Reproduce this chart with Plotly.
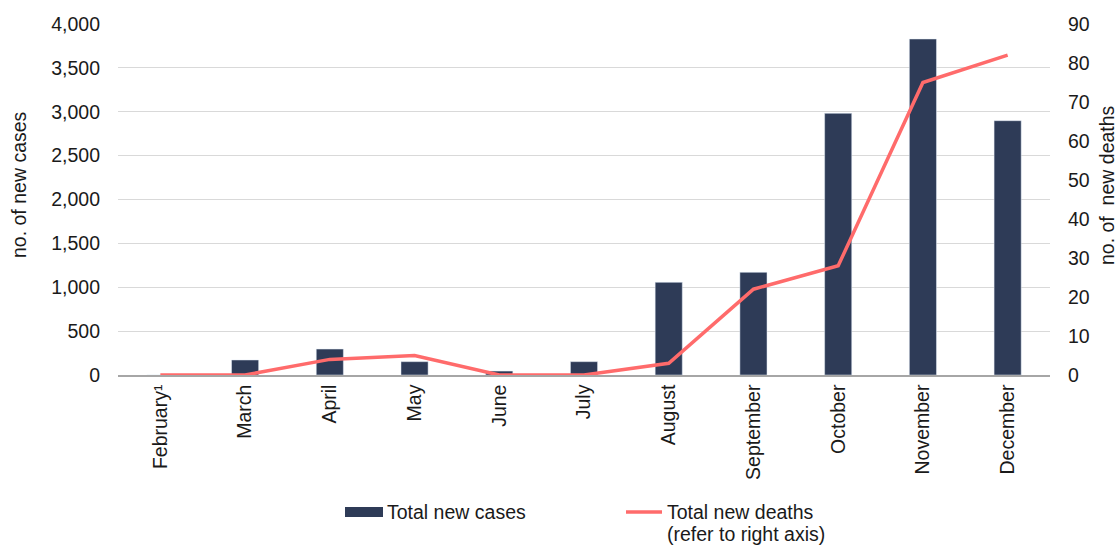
import plotly.graph_objects as go

months = ["February¹", "March", "April", "May", "June", "July", "August",
          "September", "October", "November", "December"]
new_cases = [0, 171, 296, 152, 45, 152, 1056, 1170, 2982, 3829, 2898]
new_deaths = [0, 0, 4, 5, 0, 0, 3, 22, 28, 75, 82]

case_ticks = list(range(0, 4001, 500))
death_ticks = list(range(0, 91, 10))

BAR = "#2E3B57"
LINE = "#FF6B6B"
FONT = "Liberation Sans, Arial, sans-serif"
TXT = "#1a1a1a"
FS = 19.5

fig = go.Figure()
fig.add_trace(go.Bar(x=months, y=new_cases, marker_color=BAR, name="Total new cases",
                     yaxis="y", showlegend=False))
fig.add_trace(go.Scatter(x=months, y=new_deaths, mode="lines", line=dict(color=LINE, width=3.5),
                         name="Total new deaths", yaxis="y2", showlegend=False))

fig.update_layout(
    width=1118, height=545,
    margin=dict(l=118, r=68, t=24, b=170),
    paper_bgcolor="white", plot_bgcolor="white",
    font=dict(family=FONT, size=FS, color=TXT),
    bargap=0.68,
    xaxis=dict(type="category", tickangle=-90, showgrid=False, showline=True,
               linecolor="#A6A6A6", linewidth=1.5, ticks="", tickfont=dict(size=FS)),
    yaxis=dict(range=[0, 4000], tickvals=case_ticks,
               ticktext=[f"{v:,}" for v in case_ticks],
               showgrid=True, gridcolor="#D9D9D9", gridwidth=1.2, zeroline=False,
               showline=False, ticks="", ticklabelstandoff=17),
    yaxis2=dict(range=[0, 90], tickvals=death_ticks, overlaying="y", side="right",
                showgrid=False, zeroline=False, showline=False, ticks="",
                ticklabelstandoff=17),
)


def px_x(px):
    return (px - 118) / 932


def px_y(py):
    return (375 - py) / 351


# axis titles
fig.add_annotation(text="no. of new cases", xref="paper", yref="paper",
                   x=px_x(19), y=px_y(185), textangle=-90,
                   showarrow=False, xanchor="center", yanchor="middle",
                   font=dict(size=FS, color=TXT))
fig.add_annotation(text="no. of  new deaths", xref="paper", yref="paper",
                   x=px_x(1107), y=px_y(185), textangle=-90,
                   showarrow=False, xanchor="center", yanchor="middle",
                   font=dict(size=FS, color=TXT))

# legend
fig.add_shape(type="rect", xref="paper", yref="paper",
              x0=px_x(345), x1=px_x(383), y0=px_y(517), y1=px_y(507),
              fillcolor=BAR, line=dict(width=0))
fig.add_annotation(text="Total new cases", xref="paper", yref="paper",
                   x=px_x(385), y=px_y(512), xanchor="left", yanchor="middle",
                   showarrow=False, font=dict(size=FS, color=TXT))
fig.add_shape(type="line", xref="paper", yref="paper",
              x0=px_x(626), x1=px_x(662), y0=px_y(512), y1=px_y(512),
              line=dict(color=LINE, width=3.5))
fig.add_annotation(text="Total new deaths", xref="paper", yref="paper",
                   x=px_x(665), y=px_y(512), xanchor="left", yanchor="middle",
                   showarrow=False, font=dict(size=FS, color=TXT))
fig.add_annotation(text="(refer to right axis)", xref="paper", yref="paper",
                   x=px_x(665), y=px_y(534), xanchor="left", yanchor="middle",
                   showarrow=False, font=dict(size=FS, color=TXT))

fig.write_html("out.html")
